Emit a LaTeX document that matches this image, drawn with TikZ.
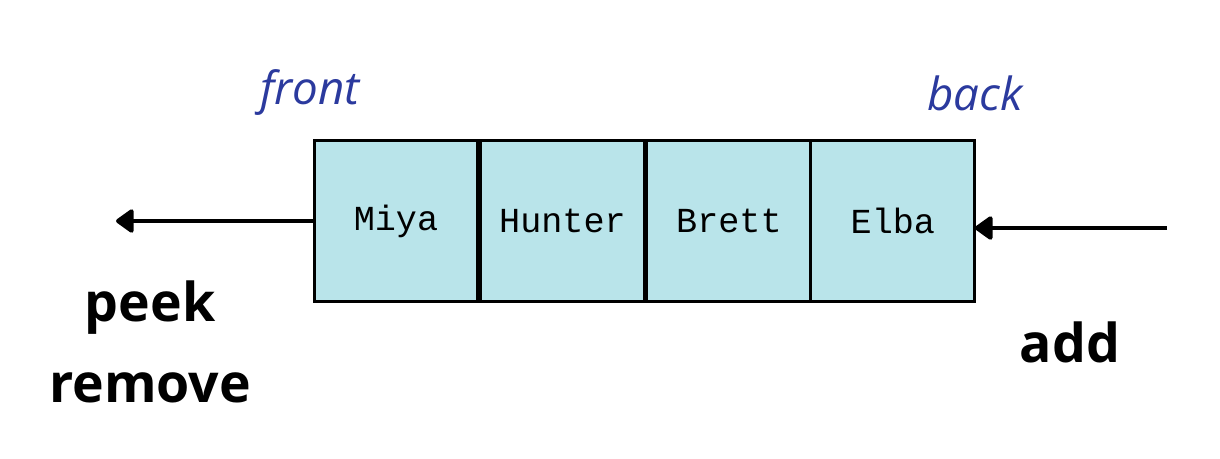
\documentclass[tikz,border=0pt]{standalone}
\usepackage{fontspec}
\setmainfont{Open Sans}
\setmonofont{Liberation Mono}
\usetikzlibrary{positioning,arrows.meta}

\definecolor{cellfill}{HTML}{B9E4EA}
\definecolor{endblue}{HTML}{2B3A9E}

\tikzstyle{cell} = [rectangle, draw, line width=1.7pt, fill=cellfill, minimum width=3.28cm, minimum height=3.22cm, inner sep=0pt, outer sep=0pt, font=\ttfamily\fontsize{20}{24}\selectfont]
\tikzstyle{endlabel} = [text=endblue, font=\itshape\fontsize{26}{30}\selectfont]
\tikzstyle{oplabel} = [font=\bfseries\fontsize{30.5}{34}\selectfont]
\tikzstyle{flow} = [line width=2.4pt, -{Triangle[length=11pt,width=15pt,round]}]

\begin{document}
\begin{tikzpicture}[x=0.02cm,y=-0.02cm]
		\useasboundingbox (0,0) rectangle (1220,458);
		% Cajas de la cola
		\node[cell] (miya) at (396,221) {Miya};
		\node[cell, right=0.05cm of miya] (hunter) {Hunter};
		\node[cell, right=0.05cm of hunter] (brett) {Brett};
		\node[cell, right=0.0cm of brett] (elba) {Elba};
		% Extremos
		\node[endlabel] (front) at (310,93) {front};
		\node[endlabel] (back) at (975,93) {back};
		% Operaciones
		\node[oplabel] (peek) at (150,308) {peek};
		\node[oplabel] (remove) at (150,388) {remove};
		\node[oplabel] (add) at (1070,342) {add};
		% Flechas
		\coordinate (outend) at (116,221);
		\coordinate (inend) at (1167,228);
		\draw[flow] (miya.west) -- (outend);
		\draw[flow] (inend) -- (inend -| elba.east);
	\end{tikzpicture}
\end{document}
